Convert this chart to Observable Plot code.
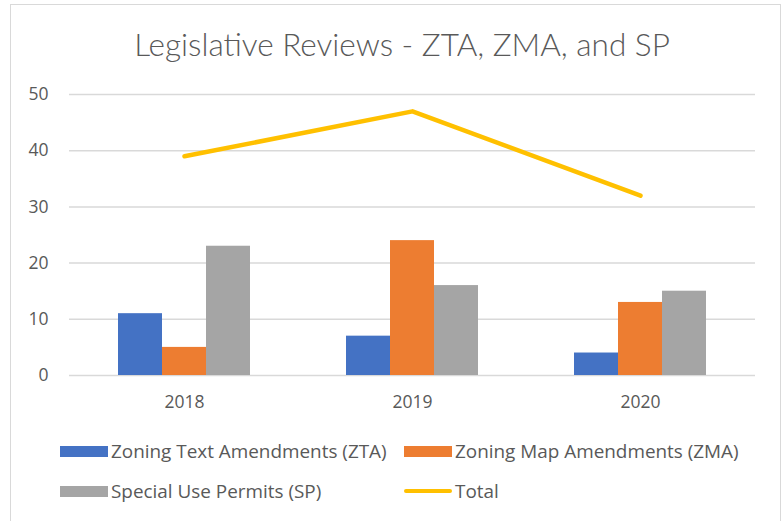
<!DOCTYPE html>
<html>
<head>
<meta charset="utf-8">
<script src="https://cdn.jsdelivr.net/npm/d3@7"></script>
<script src="https://cdn.jsdelivr.net/npm/@observablehq/plot@0.6"></script>
<style>
  html, body { margin: 0; padding: 0; background: #fff; }
  body { width: 784px; height: 521px; position: relative; overflow: hidden; font-family: "Open Sans", sans-serif; color: #595959; }
  #frame { position: absolute; left: 10px; top: 4px; width: 771px; height: 540px; border: 1.5px solid #d9d9d9; box-sizing: border-box; }
  #title { position: absolute; left: 0; width: 804px; top: 23px; text-align: center; font-family: "Lato", sans-serif; font-weight: 300; font-size: 31.5px; color: #595959; line-height: 42px; }
  #chart { position: absolute; left: 0; top: 0; }
  .leg { position: absolute; display: flex; align-items: center; font-size: 18.9px; color: #595959; white-space: nowrap; }
  .sw { width: 48px; height: 11px; margin-right: 3px; }
  .ln { width: 48px; height: 4.5px; border-radius: 2.25px; margin-right: 3px; }
</style>
</head>
<body>
<div id="frame"></div>
<div id="title">Legislative Reviews - ZTA, ZMA, and SP</div>
<div id="chart"></div>
<div id="legend"></div>
<script>
const years = ["2018", "2019", "2020"];
const zta = [11, 7, 4];
const zma = [5, 24, 13];
const sp = [23, 16, 15];
const total = [39, 47, 32];
const yTicks = [0, 10, 20, 30, 40, 50];
const seriesNames = ["Zoning Text Amendments (ZTA)", "Zoning Map Amendments (ZMA)", "Special Use Permits (SP)", "Total"];
const colors = ["#4472C4", "#ED7D31", "#A5A5A5", "#FFC000"];

const toRows = (vals) => years.map((year, i) => ({year, value: vals[i]}));

const bw = 44;
const chart = Plot.plot({
  width: 784,
  height: 420,
  marginLeft: 69,
  marginRight: 29,
  marginTop: 94,
  marginBottom: 45,
  style: {fontFamily: "Open Sans, sans-serif", fontSize: "17.5px", color: "#595959", background: "transparent"},
  x: {type: "band", domain: years, paddingInner: 0.8076, paddingOuter: 0.4038, label: null, tickSize: 0, tickPadding: 20},
  y: {domain: [0, 50], ticks: yTicks, label: null, tickSize: 0, tickPadding: 21},
  marks: [
    Plot.gridY(yTicks, {stroke: "#d9d9d9", strokeOpacity: 1, strokeWidth: 1.5}),
    Plot.barY(toRows(zta), {x: "year", y: "value", fill: colors[0], dx: -bw}),
    Plot.barY(toRows(zma), {x: "year", y: "value", fill: colors[1]}),
    Plot.barY(toRows(sp), {x: "year", y: "value", fill: colors[2], dx: bw}),
    Plot.line(toRows(total), {x: "year", y: "value", stroke: colors[3], strokeWidth: 4.5, strokeLinecap: "round", strokeLinejoin: "round"})
  ]
});
document.getElementById("chart").appendChild(chart);

const legendPos = [
  {left: 60, top: 443},
  {left: 404, top: 443},
  {left: 60, top: 483},
  {left: 404, top: 483}
];
const legend = document.getElementById("legend");
seriesNames.forEach((name, i) => {
  const d = document.createElement("div");
  d.className = "leg";
  d.style.left = legendPos[i].left + "px";
  d.style.top = (legendPos[i].top - 4) + "px";
  d.style.height = "24px";
  const s = document.createElement("span");
  s.className = i === 3 ? "ln" : "sw";
  s.style.background = colors[i];
  d.appendChild(s);
  const t = document.createElement("span");
  t.textContent = name;
  d.appendChild(t);
  legend.appendChild(d);
});
</script>
</body>
</html>
